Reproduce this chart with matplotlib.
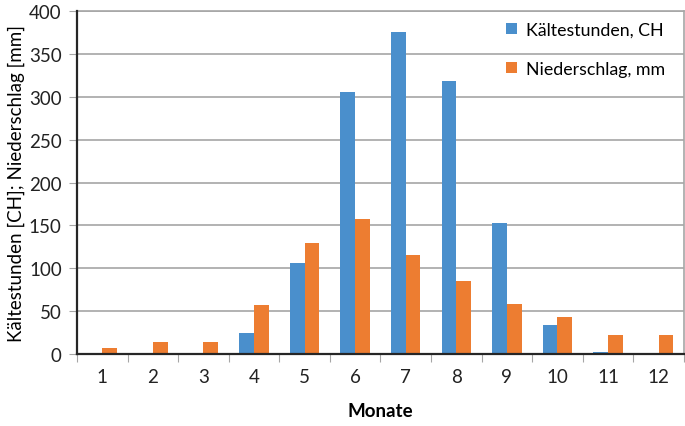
import numpy as np
import matplotlib.pyplot as plt

plt.rcParams['font.family'] = ['Lato', 'DejaVu Sans']

months = [str(m) for m in range(1, 13)]
kaeltestunden = [0, 0, 0, 24, 106, 305, 376, 318, 153, 34, 2, 0]
niederschlag = [7, 14, 14, 57, 130, 158, 115, 85, 58, 43, 22, 22]

blue = '#4a8fcc'
orange = '#ed7d31'

fig = plt.figure(figsize=(6.85, 4.27), dpi=100)
ax = fig.add_axes([0.1124, 0.1686, 0.886, 0.8033])

x = np.arange(len(months))
w = 0.29
ax.bar(x - w / 2, kaeltestunden, w, color=blue, label='Kältestunden, CH', zorder=3)
ax.bar(x + w / 2, niederschlag, w, color=orange, label='Niederschlag, mm', zorder=3)

ax.set_xlim(-0.5, 11.5)
ax.set_ylim(0, 400)
ax.set_yticks(range(0, 401, 50))
ax.yaxis.grid(True, color='#a6a6a6', linewidth=1.2, zorder=0)

# ticks on category boundaries, labels in the middle
ax.set_xticks(np.arange(-0.5, 12, 1))
ax.set_xticklabels([])
ax.set_xticks(x, minor=True)
ax.set_xticklabels(months, minor=True)
ax.tick_params(axis='x', which='major', length=6, color='#a6a6a6', direction='out')
ax.tick_params(axis='x', which='minor', length=0, pad=10)
ax.tick_params(axis='y', length=6, color='#a6a6a6', direction='out', pad=5)
ax.tick_params(which='both', labelsize=13.5, labelcolor='#222222')

for s in ['left', 'bottom']:
    ax.spines[s].set_color('#262626')
    ax.spines[s].set_linewidth(1.6)
for s in ['top', 'right']:
    ax.spines[s].set_color('#a6a6a6')
    ax.spines[s].set_linewidth(1.2)
ax.spines['left'].set_zorder(4)
ax.spines['bottom'].set_zorder(4)

ax.set_xlabel('Monate', fontsize=13.5, fontweight='bold', labelpad=12)
ax.set_ylabel('Kältestunden [CH]; Niederschlag [mm]', fontsize=13.5, labelpad=3)

ax.legend(loc='upper right', bbox_to_anchor=(0.995, 1.015), frameon=False,
          fontsize=12.8, handlelength=0.6, handleheight=0.6, handletextpad=0.5,
          labelspacing=1.3)

fig.savefig('out.png', dpi=100)
